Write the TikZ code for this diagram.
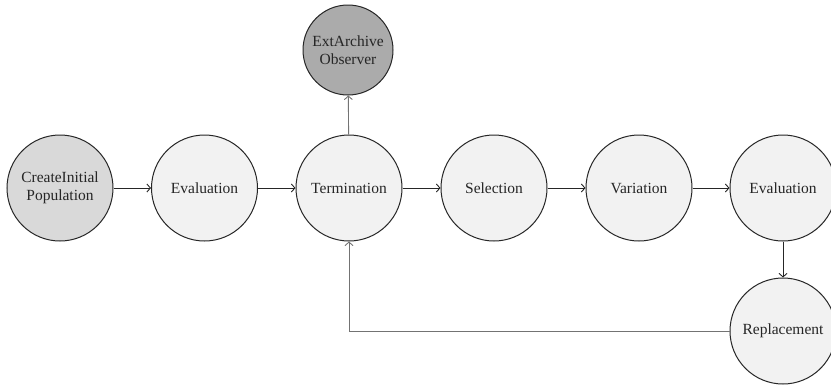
\documentclass[tikz,border=0pt]{standalone}
\usepackage{fontspec}
\setmainfont{Liberation Serif}
\usetikzlibrary{arrows.meta}
\begin{document}
\begin{tikzpicture}[x=1pt,y=-1pt,
  stage/.style={circle,draw=black!85,line width=1pt,fill=black!5,minimum size=106pt,inner sep=0pt,align=center,font=\fontsize{15.5}{18.5}\selectfont,text=black!85},
  startnode/.style={stage,fill=black!15},
  obsnode/.style={stage,fill=black!33,minimum size=90pt},
  conn/.style={-{Straight Barb[length=3.5pt,width=8pt]},line width=0.9pt,draw=black!85},
  grayconn/.style={conn,draw=black!55}]
\clip (0,0) rectangle (831,386);
\node[startnode] (init) at (60,188) {CreateInitial\\Population};
\node[stage] (eval1) at (204.5,188) {Evaluation};
\node[stage] (term) at (349,188) {Termination};
\node[stage] (sel) at (494,188) {Selection};
\node[stage] (var) at (639,188) {Variation};
\node[stage] (eval2) at (783,188) {Evaluation};
\node[stage] (repl) at (783,331) {Replacement};
\node[obsnode] (obs) at (348,50) {ExtArchive\\Observer};
\draw[conn] (init) -- (eval1);
\draw[conn] (eval1) -- (term);
\draw[conn] (term) -- (sel);
\draw[conn] (sel) -- (var);
\draw[conn] (var) -- (eval2);
\draw[conn] (eval2) -- (repl);
\draw[grayconn] (term) -- (obs);
\draw[grayconn] (repl.west) -| (term.south);
\end{tikzpicture}
\end{document}
